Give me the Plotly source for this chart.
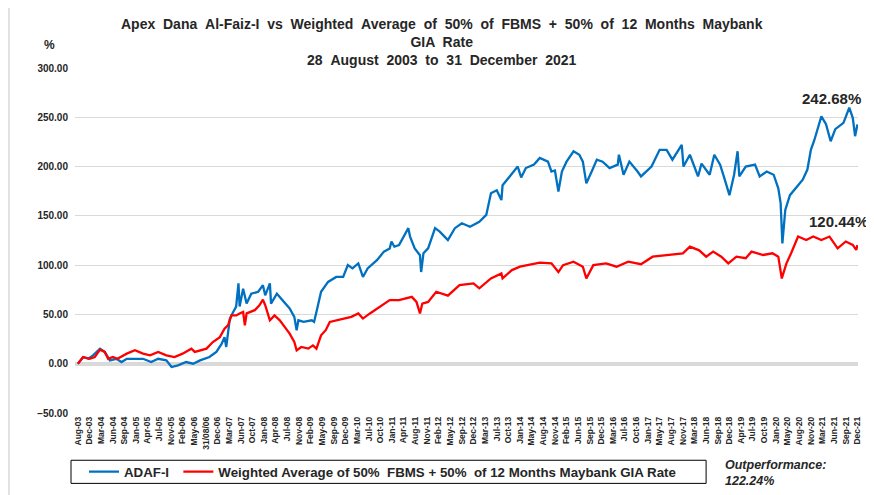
import plotly.graph_objects as go

# Category tick labels (evenly spaced on the axis)
tick_labels = ["Aug-03", "Dec-03", "Mar-04", "Jun-04", "Sep-04", "Jan-05", "Apr-05", "Jul-05",
               "Nov-05", "Feb-06", "May-06", "31/08/06", "Dec-06", "Mar-07", "Jun-07", "Oct-07",
               "Jan-08", "Apr-08", "Jul-08", "Nov-08", "Feb-09", "May-09", "Sep-09", "Dec-09",
               "Mar-10", "Jul-10", "Oct-10", "Jan-11", "Apr-11", "Aug-11", "Nov-11", "Feb-12",
               "May-12", "Sep-12", "Dec-12", "Mar-13", "Jul-13", "Oct-13", "Jan-14", "May-14",
               "Aug-14", "Nov-14", "Feb-15", "Jun-15", "Sep-15", "Dec-15", "Mar-16", "Jul-16",
               "Oct-16", "Jan-17", "May-17", "Aug-17", "Nov-17", "Mar-18", "Jun-18", "Sep-18",
               "Dec-18", "Apr-19", "Jul-19", "Oct-19", "Jan-20", "May-20", "Aug-20", "Nov-20",
               "Mar-21", "Jun-21", "Sep-21", "Dec-21"]

# ADAF-I cumulative return (%) at positions along the category axis
adaf_pos = [0, 0.45, 0.9, 1.3, 1.9, 2.3, 2.75, 3.3, 3.75, 4.2, 4.9, 5.6, 6.3, 6.9, 7.6, 8.05,
            8.6, 9.3, 9.9, 10.5, 11.3, 11.9, 12.35, 12.6, 12.75, 13.06, 13.35,
            13.6, 13.8, 13.9, 14.2, 14.5, 14.9, 15.5, 15.9, 16.1, 16.5, 16.6, 17.1, 17.6, 18.2,
            18.6, 18.8, 18.95, 19.4, 20.1, 20.3, 20.6, 20.9, 21.5, 22.2, 22.8, 23.2, 23.6, 24.1,
            24.5, 24.9, 25.7, 26.3, 26.8, 26.95, 27.2, 27.6, 28.4, 28.55, 28.95, 29.4, 29.5, 29.7,
            30.1, 30.7, 31.1, 31.8, 32.4, 33.0, 33.7, 34.5, 35.1, 35.5, 36.0, 36.4, 36.5, 37.1,
            37.8, 38.1, 38.5, 39.2, 39.7, 40.4, 40.7, 41.0, 41.3, 41.6, 42.0, 42.6, 43.1, 43.4,
            43.7, 44.2, 44.6, 45.1, 45.7, 46.4, 46.5, 46.9, 47.4, 48.1,
            48.4, 49.3, 50.0, 50.6, 51.1, 51.9, 52.05, 52.6, 53.3, 53.6, 54.3, 54.7, 55.2, 55.6,
            56.0, 56.4, 56.7, 56.85, 57.4, 58.2, 58.6, 59.2, 59.8, 60.2, 60.4, 60.55, 60.8, 61.2,
            61.7, 62.3, 62.7, 63.0, 63.3, 63.9, 64.3, 64.7, 65.1, 65.8, 66.3, 66.6, 66.8, 67.0]
adaf_val = [0, 6.8, 5, 8.5, 15.3, 12, 3.4, 5, 1.7, 5, 5, 5, 1.7, 5, 3.4, -3.4,
            -1.7, 1.7, 0, 3.4, 6.8, 12, 20, 27, 17, 45.8, 52.5,
            58, 81.5, 58, 76, 61, 71, 73, 79.7, 69.4, 81.5, 61, 71, 64.5, 56,
            47.5, 34, 44, 42.4, 44, 42.4, 57.6, 73, 83, 88, 88, 100, 96.7, 101.8,
            88, 96.7, 105, 113.7, 117, 124, 118.7, 120.4, 137.5, 129, 117, 110, 93, 112,
            117, 137.5, 134, 125.5, 137.5, 142.5, 139, 144, 151, 173, 176, 166, 181, 190,
            200, 189, 198.5, 202, 208.7, 205, 195, 196, 174.7, 195, 205, 215.5, 212, 205,
            183, 196, 207, 205, 198.5, 202, 212, 191.7, 205, 195,
            190, 200, 217, 217, 207, 222, 200, 212, 190, 203, 191.7, 212, 202, 186.7,
            171, 191.7, 215.5, 190, 200, 202, 190, 195, 191.7, 178, 163, 122, 156, 171,
            178, 186.7, 197, 217, 227, 251, 243, 225.7, 238, 244.4, 259.7, 249.5, 230.8, 242.68]

# Benchmark cumulative return (%)
bench_pos = [0, 0.45, 1.0, 1.45, 1.9, 2.3, 2.6, 3.0, 3.4, 4.2, 4.9, 5.6, 6.2, 6.9, 7.6, 8.3,
             9.0, 9.75, 10.05, 10.5, 11.05, 11.6, 12.2, 12.6, 12.9, 13.2,
             13.6, 13.9, 14.2, 14.35, 14.5, 15.2, 15.6, 15.9, 16.1, 16.5, 16.9, 17.35, 17.8, 18.2,
             18.6, 18.8, 19.2, 19.8, 20.2, 20.5, 20.9, 21.3, 21.65, 22.2, 22.9, 23.5, 24.1, 24.5,
             25.1, 25.9, 26.8, 27.6, 28.7, 29.1, 29.4, 29.6, 30.1,
             30.8, 31.8, 32.8, 34.0, 34.5, 35.5, 36.4, 36.5, 37.3, 38.0, 39.7, 40.7, 41.3, 41.7,
             42.6, 43.4, 43.7, 44.3, 45.4, 46.3, 47.3,
             48.4, 49.4, 50.6, 52.0, 52.6, 53.4, 54.0, 54.6, 55.3, 55.9, 56.6, 57.4, 57.9, 58.9,
             59.7, 60.2, 60.5, 60.9, 61.3, 61.9, 62.6, 63.2, 63.9, 64.6, 65.3, 66.0, 66.6, 66.9, 67.0]
bench_val = [0, 6.8, 5, 6.8, 14.3, 12, 5, 6.8, 5, 10.2, 13.6, 10.2, 8.5, 12, 8.5, 6.8,
             10.2, 15.3, 12, 13.6, 15.3, 22, 27, 35.6, 39, 49,
             49, 51, 52.5, 39, 51, 54.3, 59.3, 65, 59.3, 44, 49, 44, 37.3, 30.5,
             22, 13.5, 17, 15.3, 18.6, 15.3, 28.8, 34, 42.4, 44, 45.8, 47.5, 51, 45.8,
             51, 57.6, 64.5, 64.5, 67.8, 62.7, 51, 61, 62.7,
             73, 69, 79.7, 81.5, 76.5, 86.5, 91.6, 86.5, 95, 98.4, 102.5, 101.8, 93, 100,
             103.5, 98.4, 86.5, 100, 101.8, 98.4, 103.5,
             101, 108.6, 110.3, 112, 118.7, 115, 108.6, 113.7, 108.6, 101.8, 108.6, 107, 113.7, 110.3,
             112, 108.6, 86.5, 101.8, 112, 129, 125.5, 129, 125.5, 129, 117, 124, 120.6, 115.4, 120.44]

y_ticks = [-50, 0, 50, 100, 150, 200, 250, 300]

title_lines = ["Apex Dana Al-Faiz-I vs Weighted Average of 50% of FBMS + 50% of 12 Months Maybank",
               "GIA Rate",
               "28 August 2003 to 31 December 2021"]

FONT = "Liberation Sans, Arial, sans-serif"
TXT = "#262626"

fig = go.Figure()
fig.add_trace(go.Scatter(x=adaf_pos, y=adaf_val, mode="lines", name="ADAF-I",
                         line=dict(color="#0070C0", width=2.3), legend="legend"))
fig.add_trace(go.Scatter(x=bench_pos, y=bench_val, mode="lines",
                         name="Weighted Average of 50% &nbsp;FBMS + 50% &nbsp;of 12 Months Maybank GIA Rate",
                         line=dict(color="#FF0000", width=2.3), legend="legend2"))

legend_font = dict(size=13.3, family=FONT, color=TXT, weight="bold")

# the page body adds an 8px offset, so the figure is 866x487
fig.update_layout(
    width=866, height=487,
    margin=dict(l=67, r=16, t=60, b=82, autoexpand=False),
    paper_bgcolor="white", plot_bgcolor="white",
    font=dict(family=FONT, color=TXT),
    xaxis=dict(tickmode="array", tickvals=list(range(len(tick_labels))), ticktext=tick_labels,
               tickangle=-90, range=[-0.25, 67.05], showgrid=False, zeroline=False,
               showline=False, ticks="",
               tickfont=dict(size=8.5, family=FONT, color=TXT, weight="bold"),
               ticklabelstandoff=1),
    yaxis=dict(range=[-50, 300], tickvals=y_ticks,
               tickformat=".2f", showgrid=True, gridcolor="#D9D9D9", gridwidth=1,
               zeroline=True, zerolinecolor="#D9D9D9", zerolinewidth=4,
               showline=False, ticks="", ticklabelstandoff=6,
               tickfont=dict(size=10, family=FONT, color=TXT, weight="bold")),
    legend=dict(orientation="h", x=0.0115, xanchor="left", y=-0.171, yanchor="middle",
                borderwidth=0, bgcolor="rgba(0,0,0,0)", font=legend_font, itemwidth=30),
    legend2=dict(orientation="h", x=0.132, xanchor="left", y=-0.171, yanchor="middle",
                 borderwidth=0, bgcolor="rgba(0,0,0,0)", font=legend_font, itemwidth=30),
    showlegend=True,
)

title_html = "<br>".join(t.replace(" ", " &nbsp;") for t in title_lines)
fig.add_annotation(text=title_html, xref="paper", yref="paper", x=0.469, y=1.075,
                   xanchor="center", yanchor="middle", showarrow=False,
                   font=dict(size=14, family=FONT, color=TXT, weight="bold"))

fig.add_annotation(text="%", xref="paper", yref="paper", x=-0.032, y=1.067,
                   xanchor="center", yanchor="middle", showarrow=False,
                   font=dict(size=12, family=FONT, color=TXT, weight="bold"))
fig.add_annotation(text="242.68%", x=64.8, y=269, xanchor="center", yanchor="middle",
                   showarrow=False, font=dict(size=15, family=FONT, color=TXT, weight="bold"))
fig.add_annotation(text="120.44%", x=65.4, y=144, xanchor="center", yanchor="middle",
                   showarrow=False, font=dict(size=15, family=FONT, color=TXT, weight="bold"))
fig.add_annotation(text="<i>Outperformance:<br>122.24%</i>", xref="paper", yref="paper",
                   x=0.828, y=-0.124, xanchor="left", yanchor="top", align="left",
                   showarrow=False, font=dict(size=12.5, family=FONT, color=TXT, weight="bold"))

# legend frame
fig.add_shape(type="rect", xref="paper", yref="paper", x0=-0.0051, x1=0.806, y0=-0.204, y1=-0.137,
              line=dict(color="#000000", width=1), fillcolor="white", layer="below")
# outer frame of the chart area
fig.add_shape(type="rect", xref="paper", yref="paper", x0=-0.0843, x1=1.03, y0=-0.26, y1=1.18,
              line=dict(color="#D9D9D9", width=1.5), fillcolor="rgba(0,0,0,0)", layer="below")

fig.write_html("out.html")
